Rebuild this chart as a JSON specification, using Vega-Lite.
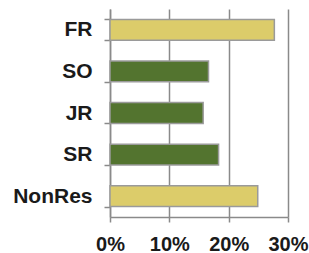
{
  "$schema": "https://vega.github.io/schema/vega-lite/v6.json",
  "width": 178,
  "height": 208,
  "autosize": {"type": "none"},
  "padding": {"left": 110, "top": 9, "right": 21, "bottom": 36},
  "config": {
    "view": {"stroke": null},
    "font": "Liberation Sans"
  },
  "data": {
    "values": [
      {"cls": "FR", "pct": 0.277, "grp": "a"},
      {"cls": "SO", "pct": 0.166, "grp": "b"},
      {"cls": "JR", "pct": 0.157, "grp": "b"},
      {"cls": "SR", "pct": 0.183, "grp": "b"},
      {"cls": "NonRes", "pct": 0.249, "grp": "a"}
    ]
  },
  "mark": {"type": "bar", "stroke": "#9a9a9a", "strokeWidth": 1.5},
  "encoding": {
    "y": {
      "field": "cls",
      "type": "nominal",
      "sort": null,
      "scale": {"paddingInner": 0.5, "paddingOuter": 0.25},
      "axis": {
        "title": null,
        "tickBand": "extent",
        "domainColor": "#8a8a8a",
        "domainWidth": 1.5,
        "tickColor": "#8a8a8a",
        "tickWidth": 1.5,
        "tickSize": 6,
        "labelPadding": 12,
        "labelFontSize": 21,
        "labelFontWeight": "bold",
        "labelColor": "#1a1a1a",
        "grid": false
      }
    },
    "x": {
      "field": "pct",
      "type": "quantitative",
      "scale": {"domain": [0, 0.3], "nice": false},
      "axis": {
        "title": null,
        "format": ".0%",
        "values": [0, 0.1, 0.2, 0.3],
        "domainColor": "#8a8a8a",
        "domainWidth": 1.5,
        "tickColor": "#8a8a8a",
        "tickWidth": 1.5,
        "tickSize": 5,
        "labelPadding": 12,
        "labelFontSize": 20,
        "labelFontWeight": "bold",
        "labelColor": "#1a1a1a",
        "labelFlush": false,
        "grid": true,
        "gridColor": "#8a8a8a",
        "gridWidth": 1.5
      }
    },
    "color": {
      "field": "grp",
      "type": "nominal",
      "scale": {"domain": ["a", "b"], "range": ["#dccc6a", "#53742f"]},
      "legend": null
    }
  }
}
